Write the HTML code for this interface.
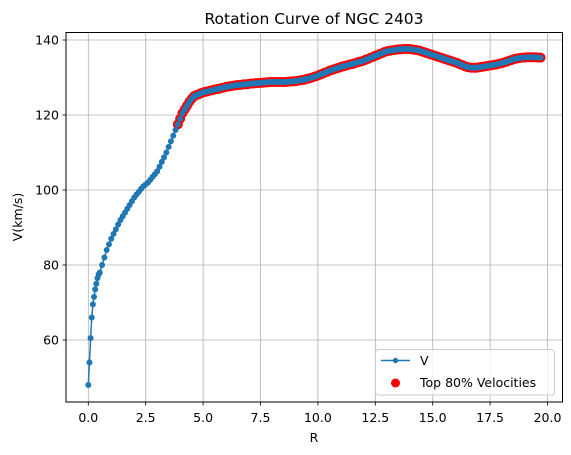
<!DOCTYPE html>
<html><head><meta charset="utf-8"><style>
body{margin:0;background:#fff}
svg{display:block;font-family:"DejaVu Sans","Liberation Sans",sans-serif}
</style></head><body>
<svg id="chart" width="571" height="455" viewBox="0 0 571 455">
<text x="314" y="24" text-anchor="middle" font-size="15.5">Rotation Curve of NGC 2403</text>
<g id="grid"></g>
<g id="red"></g>
<g id="line"></g>
<rect x="66" y="32.5" width="496.5" height="369.5" fill="none" stroke="#000" stroke-width="1"/>
<g id="axes"></g>
<text x="314" y="442" text-anchor="middle" font-size="12.5">R</text>
<text x="22" y="217" text-anchor="middle" font-size="12.5" transform="rotate(-90 22 217)">V(km/s)</text>
<g>
<rect x="375.5" y="349.5" width="179" height="45.5" rx="3" fill="#fff" fill-opacity="0.8" stroke="#ccc"/>
<g>
<line x1="381" y1="360.5" x2="410" y2="360.5" stroke="#1f77b4" stroke-width="1.5"/>
<circle cx="395.5" cy="360.5" r="2.7" fill="#1f77b4"/>
<text x="420" y="365" font-size="12.5">V</text>
</g>
<g>
<circle cx="395.5" cy="383" r="4.5" fill="#ff0000"/>
<text x="420" y="387" font-size="12.5">Top 80% Velocities</text>
</g>
</g>
</svg>
<script>
const xTicks=[0,2.5,5,7.5,10,12.5,15,17.5,20];
const xTickLabels=["0.0","2.5","5.0","7.5","10.0","12.5","15.0","17.5","20.0"];
const yTicks=[60,80,100,120,140];
const yTickLabels=["60","80","100","120","140"];
const rInner=[0,0.05,0.1,0.15,0.2,0.25,0.3,0.35,0.4,0.45];
const vInner=[48,54,60.5,66,69.5,71.5,73.5,75,76.5,77.5];
const rOuter=[];for(let i=5;i<=197;i++)rOuter.push(+(i*0.1).toFixed(1));
const vOuter=[
78,80,82,84,85.5,87,
88.3,89.5,90.8,92,93,94,95,96,97,98,
98.8,99.5,100.3,101,101.5,102,102.7,103.5,104.2,105,
106.2,107.5,108.7,110,111.5,113,114.5,116,117.5,119,
120.5,121.5,122.5,123.5,124.3,125,125.3,125.5,125.8,126,
126.2,126.3,126.5,126.6,126.8,126.9,127,127.2,127.3,127.5,
127.6,127.7,127.8,127.9,128,128,128.1,128.2,128.2,128.3,
128.4,128.4,128.5,128.5,128.6,128.6,128.7,128.7,128.8,128.8,
128.8,128.8,128.8,128.8,128.8,128.8,128.9,128.9,129,129,
129.1,129.2,129.3,129.4,129.6,129.7,129.9,130.1,130.3,130.5,
130.8,131,131.3,131.5,131.8,132,132.2,132.4,132.6,132.8,
133,133.1,133.3,133.5,133.6,133.8,134,134.2,134.3,134.5,
134.8,135,135.3,135.5,135.8,136,136.3,136.5,136.8,137,
137.1,137.2,137.3,137.4,137.5,137.5,137.6,137.6,137.6,137.6,
137.5,137.4,137.3,137.2,137,136.8,136.6,136.4,136.2,136,
135.8,135.6,135.4,135.2,135,134.8,134.6,134.4,134.2,134,
133.8,133.5,133.3,133,132.8,132.7,132.6,132.6,132.6,132.7,
132.8,132.9,133,133.1,133.2,133.3,133.4,133.5,133.7,133.8,
134,134.2,134.4,134.6,134.8,135,135.1,135.2,135.3,135.3,
135.4,135.4,135.4,135.4,135.4,135.3,135.3];
const topFraction=[0.8];
const rValues=rInner.concat(rOuter);
const vValues=vInner.concat(vOuter);
const NS="http://www.w3.org/2000/svg";
function xs(r){return 88.3+r*22.96;}
function ys(v){return 40+(140-v)*3.75;}
function mk(tag,attrs,parent){const e=document.createElementNS(NS,tag);for(const k in attrs)e.setAttribute(k,attrs[k]);parent.appendChild(e);return e;}
const grid=document.getElementById('grid'),axes=document.getElementById('axes');
xTicks.forEach((t,i)=>{const x=xs(t);
 const g=mk('line',{x1:x,x2:x,y1:32.5,y2:402,stroke:'#b0b0b0','stroke-width':0.8},grid);
 
 
 mk('line',{x1:x,x2:x,y1:402,y2:405.5,stroke:'#000','stroke-width':0.8},axes);
 const tx=mk('text',{x:x,y:422,'text-anchor':'middle','font-size':12.5},axes);tx.textContent=xTickLabels[i];
 
 });
yTicks.forEach((t,i)=>{const y=ys(t);
 const g=mk('line',{x1:66,x2:562.5,y1:y,y2:y,stroke:'#b0b0b0','stroke-width':0.8},grid);
 
 
 mk('line',{x1:62.5,x2:66,y1:y,y2:y,stroke:'#000','stroke-width':0.8},axes);
 const tx=mk('text',{x:59,y:y+4.5,'text-anchor':'end','font-size':12.5},axes);tx.textContent=yTickLabels[i];
 
 });
// radius-weighted quantile (samples are non-uniform in R)
const n=rValues.length;
const w=rValues.map((r,i)=>((i<n-1?rValues[i+1]:r)-(i>0?rValues[i-1]:r))/2);
const order=vValues.map((v,i)=>i).sort((a,b)=>vValues[a]-vValues[b]);
const totalW=w.reduce((a,b)=>a+b,0);
let acc=0,thr=vValues[order[0]];
for(const i of order){acc+=w[i];if(acc>=(1-topFraction[0])*totalW){thr=vValues[i];break;}}
const red=document.getElementById('red');
rValues.forEach((r,i)=>{if(vValues[i]>=thr){const c=mk('circle',{cx:xs(r),cy:ys(vValues[i]),r:5,fill:'#ff0000'},red);
 
 }});
const line=document.getElementById('line');
const p=mk('polyline',{points:rValues.map((r,i)=>xs(r)+','+ys(vValues[i])).join(' '),fill:'none',stroke:'#1f77b4','stroke-width':1.5},line);


rValues.forEach((r,i)=>{const c=mk('circle',{cx:xs(r),cy:ys(vValues[i]),r:3,fill:'#1f77b4'},line);
 
 });
</script>
</body></html>
